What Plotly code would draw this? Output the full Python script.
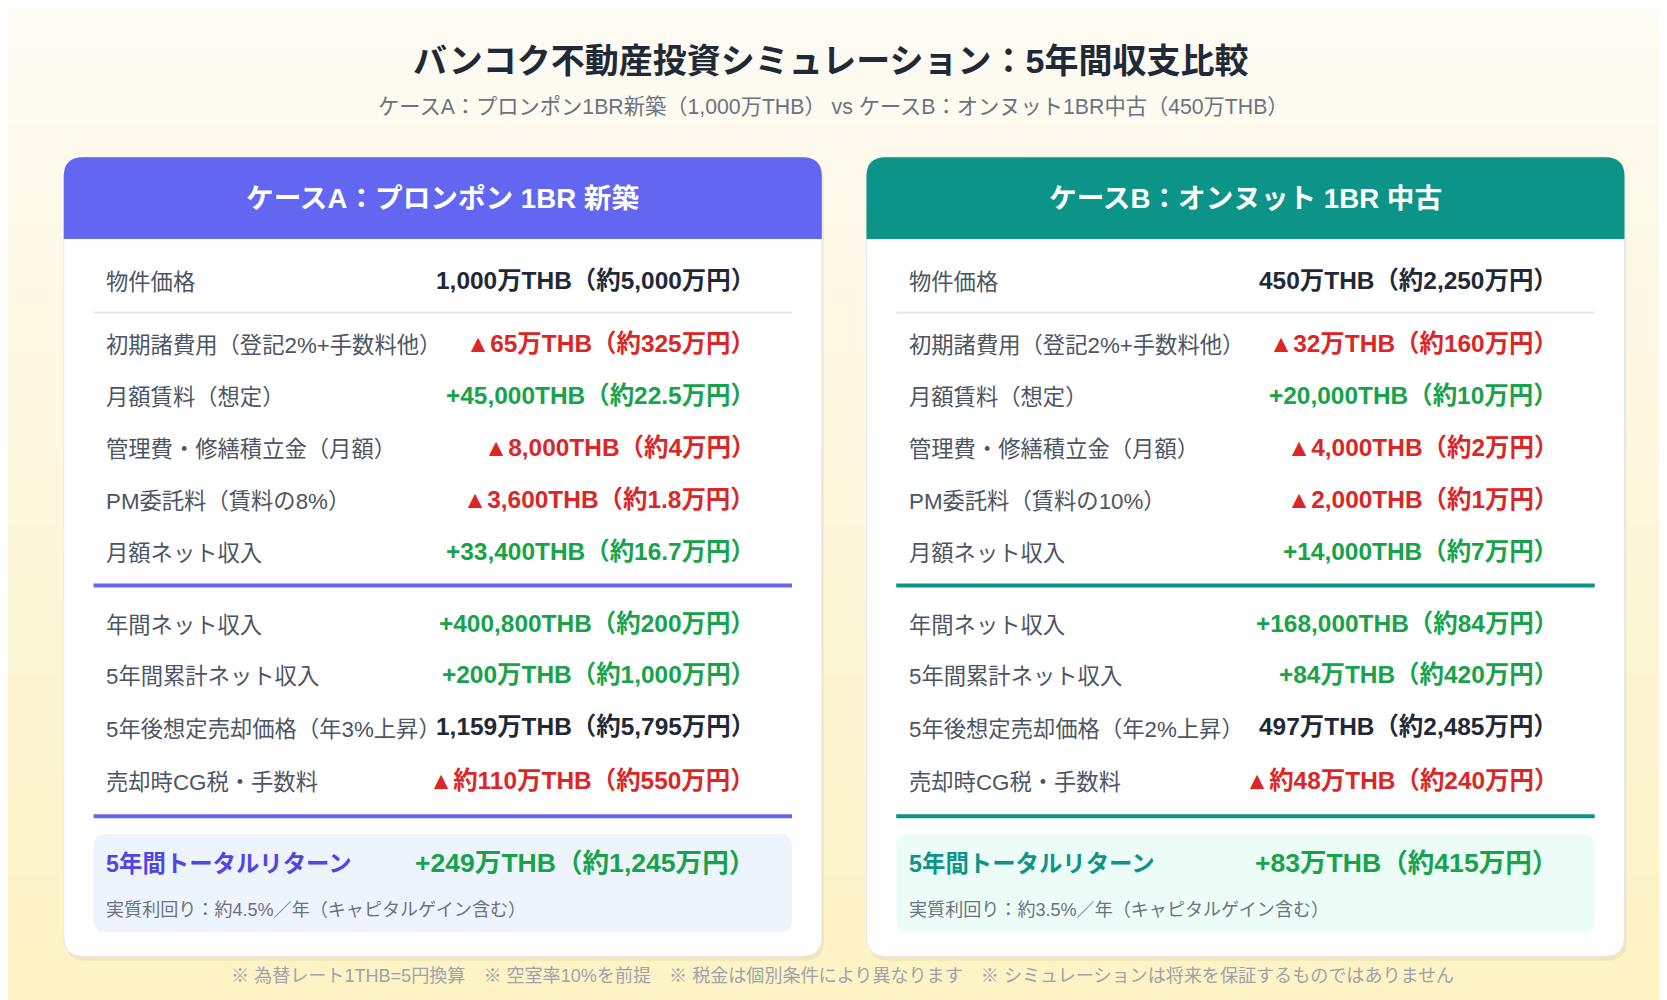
import plotly.graph_objects as go

W, H = 1568, 941  # drawing coordinate space (scaled to 1667x1000)
S = 1667 / 1568
OFF = 8 / S  # compensate page body margin

title = "バンコク不動産投資シミュレーション：5年間収支比較"
subtitle = "ケースA：プロンポン1BR新築（1,000万THB） vs ケースB：オンヌット1BR中古（450万THB）"
footer = "※ 為替レート1THB=5円換算　※ 空室率10%を前提　※ 税金は個別条件により異なります　※ シミュレーションは将来を保証するものではありません"

headers = ["ケースA：プロンポン 1BR 新築", "ケースB：オンヌット 1BR 中古"]
labels_a = ["物件価格", "初期諸費用（登記2%+手数料他）", "月額賃料（想定）", "管理費・修繕積立金（月額）",
            "PM委託料（賃料の8%）", "月額ネット収入", "年間ネット収入", "5年間累計ネット収入",
            "5年後想定売却価格（年3%上昇）", "売却時CG税・手数料"]
labels_b = ["物件価格", "初期諸費用（登記2%+手数料他）", "月額賃料（想定）", "管理費・修繕積立金（月額）",
            "PM委託料（賃料の10%）", "月額ネット収入", "年間ネット収入", "5年間累計ネット収入",
            "5年後想定売却価格（年2%上昇）", "売却時CG税・手数料"]
values_a = ["1,000万THB（約5,000万円）", "▲65万THB（約325万円）", "+45,000THB（約22.5万円）",
            "▲8,000THB（約4万円）", "▲3,600THB（約1.8万円）", "+33,400THB（約16.7万円）",
            "+400,800THB（約200万円）", "+200万THB（約1,000万円）", "1,159万THB（約5,795万円）",
            "▲約110万THB（約550万円）"]
values_b = ["450万THB（約2,250万円）", "▲32万THB（約160万円）", "+20,000THB（約10万円）",
            "▲4,000THB（約2万円）", "▲2,000THB（約1万円）", "+14,000THB（約7万円）",
            "+168,000THB（約84万円）", "+84万THB（約420万円）", "497万THB（約2,485万円）",
            "▲約48万THB（約240万円）"]
kinds = ["n", "r", "g", "r", "r", "g", "g", "g", "n", "r"]
total_label = "5年間トータルリターン"
total_values = ["+249万THB（約1,245万円）", "+83万THB（約415万円）"]
yield_notes = ["実質利回り：約4.5%／年（キャピタルゲイン含む）", "実質利回り：約3.5%／年（キャピタルゲイン含む）"]

row_y = [266, 325, 374, 423, 472, 521, 589, 637, 686, 736]
col = {"n": "#1f2937", "r": "#dc2626", "g": "#16a34a"}
themes = [("#6366f1", "#eef4fe", "#4f46e5"), ("#0d9488", "#ecfdf8", "#0d9488")]
FONT = "Liberation Sans, Noto Sans CJK JP, sans-serif"

fig = go.Figure()
shapes, ann = [], []

N = 40
c0, c1 = (253, 252, 244), (253, 243, 196)
for i in range(N):
    t = i / (N - 1)
    c = tuple(int(c0[k] + (c1[k] - c0[k]) * t) for k in range(3))
    shapes.append(dict(type="rect", x0=-20, x1=W + 20, y0=H * i / N - (20 if i == 0 else 0), y1=H * (i + 1) / N + (21 if i == N - 1 else 1),
                       fillcolor="rgb(%d,%d,%d)" % c, line_width=0, layer="below"))

def rrect(x0, y0, x1, y1, r, top_only=False):
    if top_only:
        return (f"M{x0},{y1} L{x0},{y0+r} Q{x0},{y0} {x0+r},{y0} L{x1-r},{y0} "
                f"Q{x1},{y0} {x1},{y0+r} L{x1},{y1} Z")
    return (f"M{x0+r},{y0} L{x1-r},{y0} Q{x1},{y0} {x1},{y0+r} L{x1},{y1-r} Q{x1},{y1} {x1-r},{y1} "
            f"L{x0+r},{y1} Q{x0},{y1} {x0},{y1-r} L{x0},{y0+r} Q{x0},{y0} {x0+r},{y0} Z")

def text(x, y, s, size, color, bold=False, anchor="left"):
    ann.append(dict(x=x, y=y, text=f"<b>{s}</b>" if bold else s, showarrow=False,
                    xanchor=anchor, yanchor="middle",
                    font=dict(size=size * S, color=color, family=FONT)))

text(W / 2 - 2, 57, title, 32, "#1f2937", True, "center")
text(W / 2, 101, subtitle, 20, "#6b7280", False, "center")
text(W / 2 + 8, 918, footer, 17, "#9ca3af", False, "center")

for ci, x0 in enumerate([60, 815]):
    x1 = x0 + 713
    main, light, dark = themes[ci]
    shapes.append(dict(type="path", path=rrect(x0 + 2, 152, x1 + 2, 904, 18), fillcolor="rgba(0,0,0,0.05)", line_width=0))
    shapes.append(dict(type="path", path=rrect(x0, 148, x1, 900, 18), fillcolor="white",
                       line=dict(color="#e5e7eb", width=1)))
    shapes.append(dict(type="path", path=rrect(x0, 148, x1, 225, 18, True), fillcolor=main, line_width=0))
    text((x0 + x1) / 2, 187, headers[ci], 26, "white", True, "center")
    lx, rx = x0 + 38, x0 + 652
    labs = labels_a if ci == 0 else labels_b
    vals = values_a if ci == 0 else values_b
    for y, l, v, k in zip(row_y, labs, vals, kinds):
        text(lx, y, l, 21, "#4b5563")
        text(rx, y - 2, v, 23, col[k], True, "right")
    shapes.append(dict(type="line", x0=x0 + 28, x1=x1 - 28, y0=294, y1=294, line=dict(color="#e5e7eb", width=2)))
    for yy in (551, 768):
        shapes.append(dict(type="line", x0=x0 + 28, x1=x1 - 28, y0=yy, y1=yy, line=dict(color=main, width=4)))
    shapes.append(dict(type="path", path=rrect(x0 + 28, 785, x1 - 28, 877, 12), fillcolor=light, line_width=0))
    text(lx, 813, total_label, 22, dark, True)
    text(rx, 812, total_values[ci], 25, "#16a34a", True, "right")
    text(lx, 856, yield_notes[ci], 17, "#6b7280")

fig.update_layout(width=1667, height=1000, margin=dict(l=0, r=0, t=0, b=0),
                  paper_bgcolor="#fdf8dc", plot_bgcolor="rgba(0,0,0,0)",
                  xaxis=dict(range=[OFF, W + OFF], visible=False, fixedrange=True),
                  yaxis=dict(range=[H + OFF, OFF], visible=False, fixedrange=True),
                  shapes=shapes, annotations=ann, showlegend=False)
fig.write_html("out.html")
